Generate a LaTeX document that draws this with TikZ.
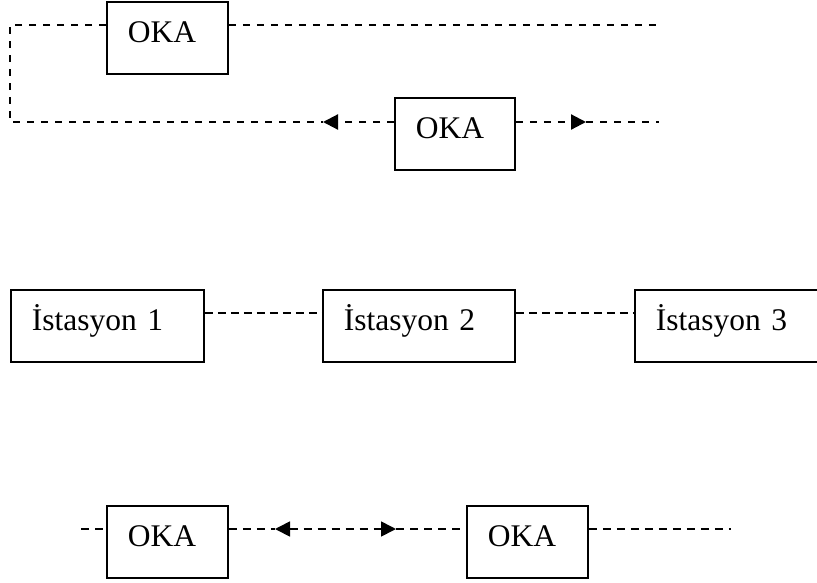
\documentclass[tikz,border=0pt]{standalone}
\usepackage{fontspec}
\setmainfont{Liberation Serif}
\usetikzlibrary{arrows.meta}

\begin{document}
\begin{tikzpicture}[
    x=1pt, y=-1pt,
    box/.style={
      draw, rectangle, line width=1.8pt, anchor=north west,
      align=left, text width=#1, inner xsep=21pt, inner ysep=0pt,
      text height=41pt, text depth=31pt,
      font=\fontsize{31.5}{36}\selectfont
    },
    dline/.style={dash pattern=on 7pt off 7pt, line width=2.2pt},
    mline/.style={dash pattern=on 8pt off 5pt, line width=1.4pt},
    bline/.style={dash pattern=on 8pt off 6pt, line width=1.7pt},
    tip/.style={-{Triangle[length=15pt,width=15pt]}}
    ]
  \useasboundingbox (0,0) rectangle (817,582);

  % upper part
  \node[box=79pt] (okaA) at (106,1) {OKA};
  \node[box=78pt] (okaB) at (394,97) {OKA};
  \coordinate (tl) at (10,25);
  \coordinate (bl) at (10,122);
  \coordinate (tr) at (659,25);
  \coordinate (br) at (659,122);
  \coordinate (al) at (323,122);
  \coordinate (ar) at (586,122);
  \draw[dline] (okaA.west |- tl) -- (tl) -- (bl) -- (al);
  \draw[dline] (okaA.east |- tl) -- (tr);
  \draw[dline, tip] (okaB.west |- al) -- (al);
  \draw[dline, tip] (okaB.east |- ar) -- (ar);
  \draw[dline] (ar) -- (br);

  % stations
  \node[box=151pt] (ist1) at (10,289) {İstasyon 1};
  \node[box=150pt] (ist2) at (322,289) {İstasyon 2};
  \node[box=200pt] (ist3) at (634,289) {İstasyon 3};
  \coordinate (m) at (0,313);
  \draw[mline] (ist1.east |- m) -- (ist2.west |- m);
  \draw[mline] (ist2.east |- m) -- (ist3.west |- m);

  % lower part
  \node[box=79pt] (okaC) at (106,505) {OKA};
  \node[box=79pt] (okaD) at (466,505) {OKA};
  \coordinate (bs) at (81,529);
  \coordinate (be) at (731,529);
  \coordinate (pl) at (275,529);
  \coordinate (pr) at (396,529);
  \draw[bline] (bs) -- (okaC.west |- bs);
  \draw[bline] (okaC.east |- bs) -- (pl);
  \draw[bline, {Triangle[length=15pt,width=15pt]}-{Triangle[length=15pt,width=15pt]}] (pl) -- (pr);
  \draw[bline] (pr) -- (okaD.west |- bs);
  \draw[bline] (okaD.east |- bs) -- (be);
\end{tikzpicture}
\end{document}
